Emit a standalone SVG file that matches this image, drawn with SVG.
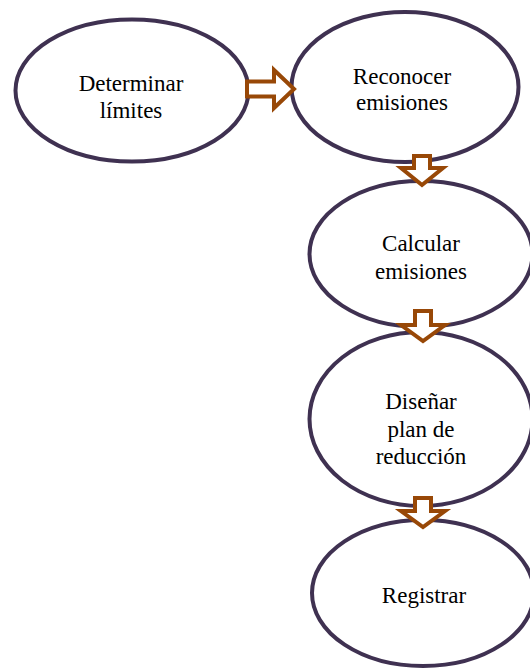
<svg xmlns="http://www.w3.org/2000/svg" width="530" height="669" viewBox="0 0 530 669">
<style>
.node ellipse{fill:#fff;stroke:#3F3151;stroke-width:4}
.node text{font-family:"Liberation Serif","Times New Roman",serif;font-size:23px;fill:#000;text-anchor:middle}
.arrow{fill:#fff;stroke:#984807;stroke-width:4;stroke-linejoin:miter}
</style>
<rect width="530" height="669" fill="#fff"/>
<g id="n1" class="node"><ellipse cx="132" cy="90.5" rx="116.5" ry="71"/><text x="131" y="91">Determinar</text><text x="131" y="118">límites</text></g>
<g id="n2" class="node"><ellipse cx="405" cy="87" rx="113.5" ry="75"/><text x="402" y="84">Reconocer</text><text x="402" y="110">emisiones</text></g>
<g id="n3" class="node"><ellipse cx="421" cy="254" rx="111.5" ry="73"/><text x="421" y="251">Calcular</text><text x="421" y="279">emisiones</text></g>
<g id="n4" class="node"><ellipse cx="421" cy="419" rx="111.5" ry="87"/><text x="421" y="409">Diseñar</text><text x="421" y="437">plan de</text><text x="421" y="464">reducción</text></g>
<g id="n5" class="node"><ellipse cx="423" cy="593" rx="111" ry="73"/><text x="424" y="603">Registrar</text></g>
<g id="connectors">
<polygon class="arrow" points="247,81.5 274,81.5 274,70 294,89 274,108 274,96.5 247,96.5"/>
<polygon class="arrow" points="414,156 430,156 430,168 443,168 422,185 401,168 414,168"/>
<polygon class="arrow" points="415,311 431,311 431,325 445,325 423,341 401,325 415,325"/>
<polygon class="arrow" points="415,498 431,498 431,511 445,511 423,527 401,511 415,511"/>
</g>
</svg>
